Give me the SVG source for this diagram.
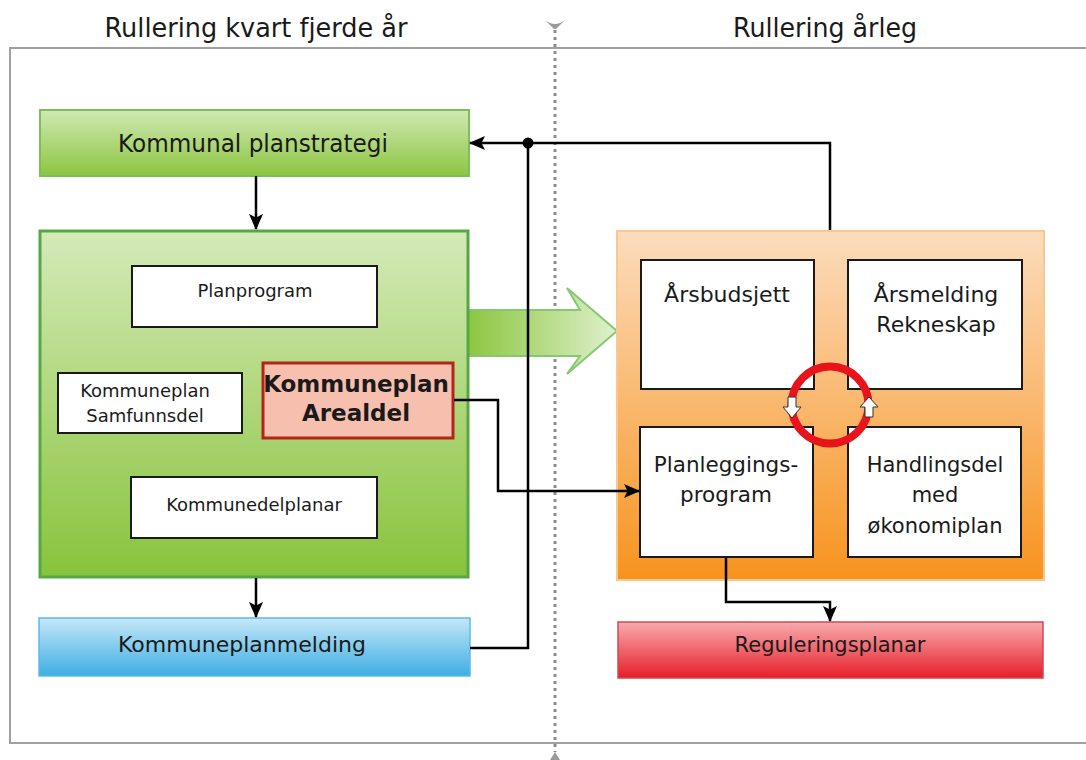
<svg xmlns="http://www.w3.org/2000/svg" width="1086" height="760" viewBox="0 0 1086 760">
<defs>
<linearGradient id="gStrat" x1="0" y1="0" x2="0" y2="1"><stop offset="0" stop-color="#d0e9b2"/><stop offset="1" stop-color="#8cc540"/></linearGradient>
<linearGradient id="gBig" x1="0" y1="0" x2="0" y2="1"><stop offset="0" stop-color="#d4eab8"/><stop offset="1" stop-color="#88c33c"/></linearGradient>
<linearGradient id="gBlue" x1="0" y1="0" x2="0" y2="1"><stop offset="0" stop-color="#c6e7f8"/><stop offset="1" stop-color="#3daee2"/></linearGradient>
<linearGradient id="gOrange" x1="0" y1="0" x2="0" y2="1"><stop offset="0" stop-color="#fcdcbd"/><stop offset="1" stop-color="#f7931e"/></linearGradient>
<linearGradient id="gRed" x1="0" y1="0" x2="0" y2="1"><stop offset="0" stop-color="#f8abae"/><stop offset="1" stop-color="#e61e2a"/></linearGradient>
<linearGradient id="gArrow" x1="0" y1="0" x2="1" y2="0"><stop offset="0" stop-color="#8cc63f"/><stop offset="1" stop-color="#dff0cd"/></linearGradient>
<marker id="ah" markerUnits="userSpaceOnUse" markerWidth="16" markerHeight="14" refX="15" refY="7" orient="auto">
<path d="M0,0 L16,7 L0,14 L3.5,7 Z" fill="#000"/>
</marker>
<style>
.t{font-family:"DejaVu Sans",Verdana,sans-serif;fill:#1a1a1a;text-anchor:middle}
.wb{fill:#fff;stroke:#1a1a1a;stroke-width:2}
.c{fill:none;stroke:#000;stroke-width:2.5}
</style>
</defs>
<rect width="1086" height="760" fill="#fff"/>
<g id="frame">
<path d="M1086,48 L10,48 L10,743 L1086,743" fill="none" stroke="#a0a0a0" stroke-width="2"/>
<line x1="555" y1="30" x2="555" y2="752" stroke="#8c8c8c" stroke-width="3" stroke-dasharray="3,4"/>
<path d="M545,20 Q555,28 565,20 L556,29 L554,29 Z" fill="#9a9a9a"/>
<path d="M550,760 L555,752 L560,760 Z" fill="#9a9a9a"/>
</g>
<g id="titles">
<text class="t" x="256" y="37" font-size="26" textLength="303" lengthAdjust="spacingAndGlyphs">Rullering kvart fjerde år</text>
<text class="t" x="825" y="37" font-size="26" textLength="184" lengthAdjust="spacingAndGlyphs">Rullering årleg</text>
</g>
<g id="bigArrow">
<polygon points="468,310 580,310 567,288 617,331 567,374 580,356 468,356" fill="url(#gArrow)" stroke="#86c872" stroke-width="2"/>
</g>
<g id="planstrategi">
<rect x="40" y="110" width="429" height="66" fill="url(#gStrat)" stroke="#7cbf5a" stroke-width="2"/>
<text class="t" x="253" y="152" font-size="24" textLength="270" lengthAdjust="spacingAndGlyphs">Kommunal planstrategi</text>
</g>
<g id="kommuneplan">
<rect x="40" y="231" width="428" height="346" fill="url(#gBig)" stroke="#56a847" stroke-width="3"/>
</g>
<g id="planprogram">
<rect class="wb" x="132" y="266" width="245" height="61"/>
<text class="t" x="255" y="297" font-size="18">Planprogram</text>
</g>
<g id="samfunnsdel">
<rect class="wb" x="58" y="373" width="184" height="60"/>
<text class="t" x="145" y="397" font-size="18">Kommuneplan</text>
<text class="t" x="145" y="422" font-size="18">Samfunnsdel</text>
</g>
<g id="arealdel">
<rect x="263" y="363" width="190" height="75" fill="#f7bfae" stroke="#b3241a" stroke-width="3"/>
<text class="t" x="356" y="392" font-size="23" font-weight="bold">Kommuneplan</text>
<text class="t" x="356" y="421" font-size="23" font-weight="bold">Arealdel</text>
</g>
<g id="kommunedelplanar">
<rect class="wb" x="131" y="477" width="246" height="61"/>
<text class="t" x="254" y="511" font-size="18">Kommunedelplanar</text>
</g>
<g id="kommuneplanmelding">
<rect x="39" y="618" width="431" height="58" fill="url(#gBlue)" stroke="#5cbbe7" stroke-width="1.5"/>
<text class="t" x="242" y="652" font-size="22" textLength="248" lengthAdjust="spacingAndGlyphs">Kommuneplanmelding</text>
</g>
<g id="aarleg">
<rect x="617" y="231" width="427" height="349" fill="url(#gOrange)" stroke="#f9c792" stroke-width="2"/>
</g>
<g id="arsbudsjett">
<rect class="wb" x="641" y="260" width="173" height="129"/>
<text class="t" x="727" y="302" font-size="22">Årsbudsjett</text>
</g>
<g id="arsmelding">
<rect class="wb" x="848" y="260" width="174" height="129"/>
<text class="t" x="936" y="302" font-size="22">Årsmelding</text>
<text class="t" x="936" y="332" font-size="22">Rekneskap</text>
</g>
<g id="planleggingsprogram">
<rect class="wb" x="640" y="427" width="173" height="130"/>
<text class="t" x="726" y="472" font-size="21.5">Planleggings-</text>
<text class="t" x="726" y="502" font-size="21.5">program</text>
</g>
<g id="handlingsdel">
<rect class="wb" x="848" y="427" width="173" height="130"/>
<text class="t" x="935" y="472" font-size="21">Handlingsdel</text>
<text class="t" x="935" y="502" font-size="21">med</text>
<text class="t" x="935" y="533" font-size="21">økonomiplan</text>
</g>
<g id="cycle">
<circle cx="830" cy="405" r="38.5" fill="none" stroke="#e8131b" stroke-width="8"/>
<path d="M788,397 L796,397 L796,407 L801,407 L792,418 L783,407 L788,407 Z" fill="#fff" stroke="#333" stroke-width="1"/>
<path d="M865,417 L873,417 L873,407 L878,407 L869,397 L860,407 L865,407 Z" fill="#fff" stroke="#333" stroke-width="1"/>
</g>
<g id="reguleringsplanar">
<rect x="618" y="622" width="425" height="56" fill="url(#gRed)" stroke="#cf4a53" stroke-width="1.5"/>
<text class="t" x="830" y="652" font-size="21">Reguleringsplanar</text>
</g>
<g id="connectors">
<path class="c" d="M256,176 L256,229" marker-end="url(#ah)"/>
<path class="c" d="M256,578 L256,617" marker-end="url(#ah)"/>
<path class="c" d="M470,648 L528,648 L528,143 L470,143" marker-end="url(#ah)"/>
<path class="c" d="M830,230 L830,143 L528,143"/>
<circle cx="528" cy="143" r="5.5" fill="#000"/>
<path class="c" d="M454,400 L498,400 L498,491 L639,491" marker-end="url(#ah)"/>
<path class="c" d="M726,558 L726,602 L830,602 L830,621" marker-end="url(#ah)"/>
</g>
</svg>
